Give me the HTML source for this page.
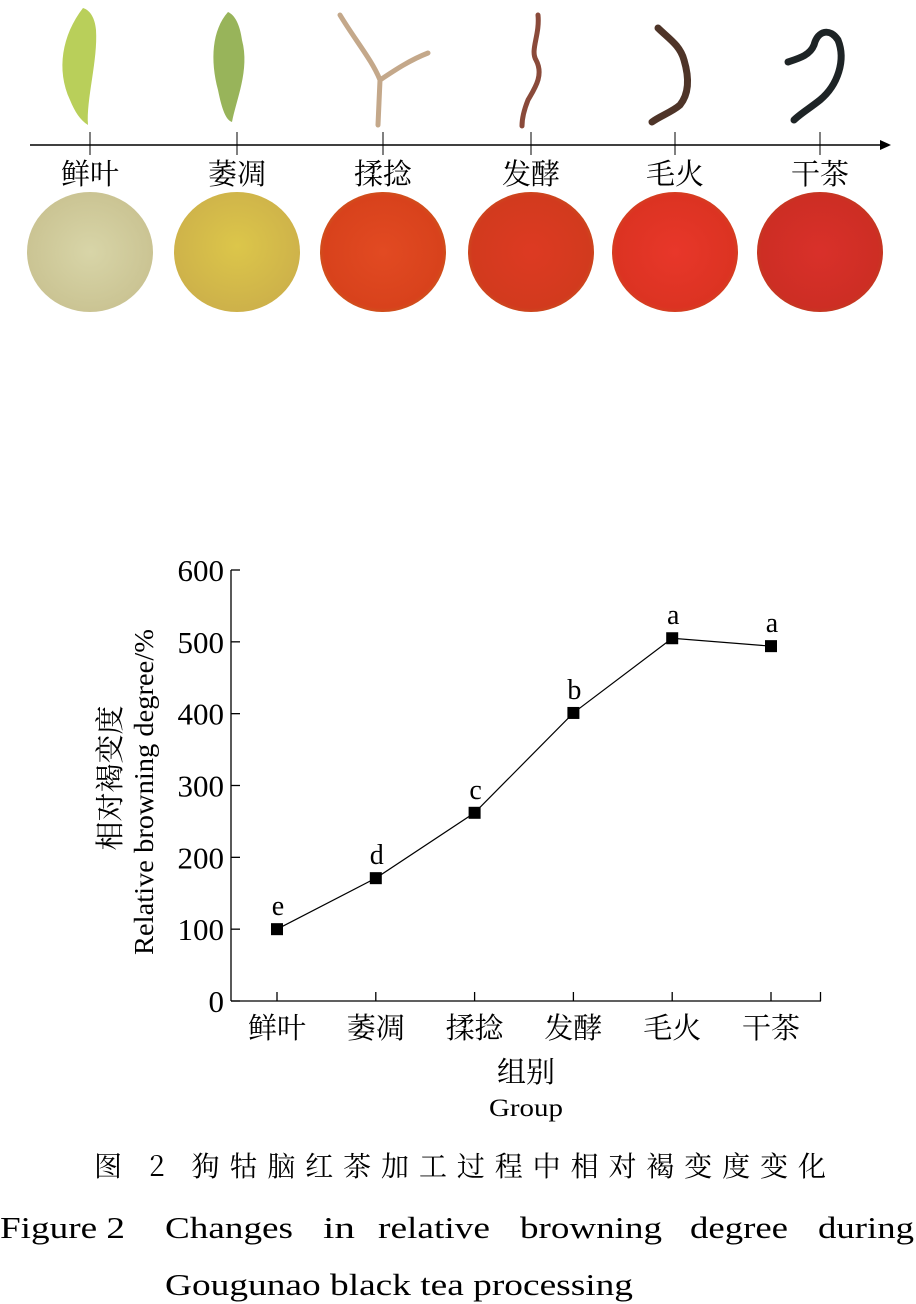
<!DOCTYPE html>
<html><head><meta charset="utf-8">
<style>
html,body{margin:0;padding:0;background:#fff;}
body{width:916px;height:1304px;position:relative;overflow:hidden;font-family:"Liberation Serif","Noto Serif CJK SC",serif;}
svg{position:absolute;left:0;top:0;}
</style></head>
<body>
<svg width="916" height="1304" viewBox="0 0 916 1304">
<defs>
<radialGradient id="g1" cx="0.5" cy="0.5" r="0.55"><stop offset="0" stop-color="#d8d5a8"/><stop offset="1" stop-color="#c9c291"/></radialGradient>
<radialGradient id="g2" cx="0.5" cy="0.45" r="0.55"><stop offset="0" stop-color="#dcc64a"/><stop offset="1" stop-color="#cdb14a"/></radialGradient>
<radialGradient id="g3" cx="0.5" cy="0.5" r="0.55"><stop offset="0" stop-color="#e24a22"/><stop offset="0.85" stop-color="#d8421c"/><stop offset="1" stop-color="#c2641c"/></radialGradient>
<radialGradient id="g4" cx="0.5" cy="0.5" r="0.55"><stop offset="0" stop-color="#dd3a22"/><stop offset="0.85" stop-color="#d23a1e"/><stop offset="1" stop-color="#c35a1c"/></radialGradient>
<radialGradient id="g5" cx="0.5" cy="0.5" r="0.55"><stop offset="0" stop-color="#e8372a"/><stop offset="0.85" stop-color="#dc3322"/><stop offset="1" stop-color="#c8501e"/></radialGradient>
<radialGradient id="g6" cx="0.5" cy="0.5" r="0.55"><stop offset="0" stop-color="#d9302a"/><stop offset="0.85" stop-color="#cd2e24"/><stop offset="1" stop-color="#b8461e"/></radialGradient>
</defs>

<g>
<path d="M83,8 C62,35 56,70 70,100 C75,112 80,120 88,125 C86,100 98,60 96,30 C95,18 90,10 83,8 Z" fill="#b9cf5a"/>
<path d="M228,12 C212,30 210,60 218,90 C222,110 226,120 232,122 C236,100 250,70 242,40 C240,25 235,15 228,12 Z" fill="#98b45a"/>
<path d="M340,15 C355,40 372,60 380,80 L378,125 M380,80 C395,70 410,60 428,53" stroke="#c4a88a" stroke-width="5" fill="none" stroke-linecap="round"/>
<path d="M538,15 C540,35 530,50 536,60 C544,75 535,88 528,100 C524,110 522,118 522,126" stroke="#8a4a3a" stroke-width="5" fill="none" stroke-linecap="round"/>
<path d="M658,28 C668,38 680,45 684,60 C690,80 688,95 680,105 C672,112 660,116 652,122" stroke="#4e3428" stroke-width="7" fill="none" stroke-linecap="round"/>
<path d="M788,62 C800,58 810,55 814,45 C818,30 830,28 838,40 C846,60 838,85 820,100 C810,108 800,114 794,120" stroke="#1e2426" stroke-width="7" fill="none" stroke-linecap="round"/>
<line x1="30" y1="145" x2="883" y2="145" stroke="#000" stroke-width="1.5"/>
<polygon points="891,145 880,140 880,150" fill="#000"/>
<g id="ptop"></g>
</g>

<g>
<line x1="231" y1="570" x2="231" y2="1001" stroke="#000" stroke-width="1.3"/>
<line x1="231" y1="1001" x2="821" y2="1001" stroke="#000" stroke-width="1.3"/>
<line x1="820.5" y1="992" x2="820.5" y2="1001" stroke="#000" stroke-width="1.3"/>
<g id="yt"></g><g id="xt"></g>
<path id="ln" fill="none" stroke="#000" stroke-width="1.2"/>
<g id="pts"></g>
<text transform="translate(120,778) rotate(-90)" text-anchor="middle" font-size="29" font-family="Noto Serif CJK SC,serif">相对褐变度</text>
<text transform="translate(153,792) rotate(-90)" text-anchor="middle" font-size="27" textLength="326" lengthAdjust="spacingAndGlyphs">Relative browning degree/%</text>
<text x="526" y="1082" text-anchor="middle" font-size="29" font-family="Noto Serif CJK SC,serif">组别</text>
<text x="489" y="1116" font-size="25" textLength="74" lengthAdjust="spacingAndGlyphs">Group</text>
</g>

<text x="94" y="1176" font-size="28" textLength="732" lengthAdjust="spacing" font-family="Noto Serif CJK SC,serif">图 2  狗牯脑红茶加工过程中相对褐变度变化</text>
<g font-size="31">
<text x="0" y="1238" textLength="125" lengthAdjust="spacingAndGlyphs">Figure 2</text>
<text x="165" y="1238" textLength="128" lengthAdjust="spacingAndGlyphs">Changes</text>
<text x="323" y="1238" textLength="32" lengthAdjust="spacingAndGlyphs">in</text>
<text x="378" y="1238" textLength="112" lengthAdjust="spacingAndGlyphs">relative</text>
<text x="520" y="1238" textLength="142" lengthAdjust="spacingAndGlyphs">browning</text>
<text x="690" y="1238" textLength="98" lengthAdjust="spacingAndGlyphs">degree</text>
<text x="818" y="1238" textLength="96" lengthAdjust="spacingAndGlyphs">during</text>
</g>
<text x="165" y="1295" font-size="31" textLength="468" lengthAdjust="spacingAndGlyphs">Gougunao black tea processing</text>
</svg>
<script>
const categories=["鲜叶","萎凋","揉捻","发酵","毛火","干茶"];
const values=[100,171,262,401,505,494];
const letters=["e","d","c","b","a","a"];
const yTicks=[0,100,200,300,400,500,600];
const topCenters=[90,237,383,531,675,820];
const NS="http://www.w3.org/2000/svg";
function mk(t,a,p){const e=document.createElementNS(NS,t);for(const k in a)e.setAttribute(k,a[k]);p.appendChild(e);return e;}
const xs=i=>277+i*98.8;
const ys=v=>1001-v*(431/600);
const yt=document.getElementById('yt');
yTicks.forEach(v=>{
 const l=mk('line',{x1:231,x2:240,y1:ys(v),y2:ys(v),stroke:'#000','stroke-width':1.3},yt);
 
 
 const t=mk('text',{x:224,y:ys(v)+11,'text-anchor':'end','font-size':31},yt);
 t.textContent=v;
 
 
});
const xt=document.getElementById('xt');
categories.forEach((c,i)=>{
 const l=mk('line',{x1:xs(i),x2:xs(i),y1:992,y2:1001,stroke:'#000','stroke-width':1.3},xt);
 
 
 const t=mk('text',{x:xs(i),y:1038,'text-anchor':'middle','font-size':29,'font-family':'Noto Serif CJK SC,serif'},xt);
 t.textContent=c;
 
 
});
document.getElementById('ln').setAttribute('d',values.map((v,i)=>(i?'L':'M')+xs(i)+','+ys(v)).join(' '));
const pts=document.getElementById('pts');
values.forEach((v,i)=>{
 const r=mk('rect',{x:xs(i)-6,y:ys(v)-6,width:12,height:12,fill:'#000'},pts);
 
 
 const t=mk('text',{x:xs(i)+1,y:ys(v)-14,'text-anchor':'middle','font-size':28},pts);
 t.textContent=letters[i];
 
 
});
const pt=document.getElementById('ptop');
topCenters.forEach((x,i)=>{
 const l=mk('line',{x1:x,x2:x,y1:132,y2:155,stroke:'#000','stroke-width':1},pt);
 
 
 const t=mk('text',{x:x,y:184,'text-anchor':'middle','font-size':29,'font-family':'Noto Serif CJK SC,serif'},pt);
 t.textContent=categories[i];
 
 
 const e=mk('ellipse',{cx:x,cy:252,rx:63,ry:60,fill:'url(#g'+(i+1)+')'},pt);
 
 
});
</script>
</body></html>
